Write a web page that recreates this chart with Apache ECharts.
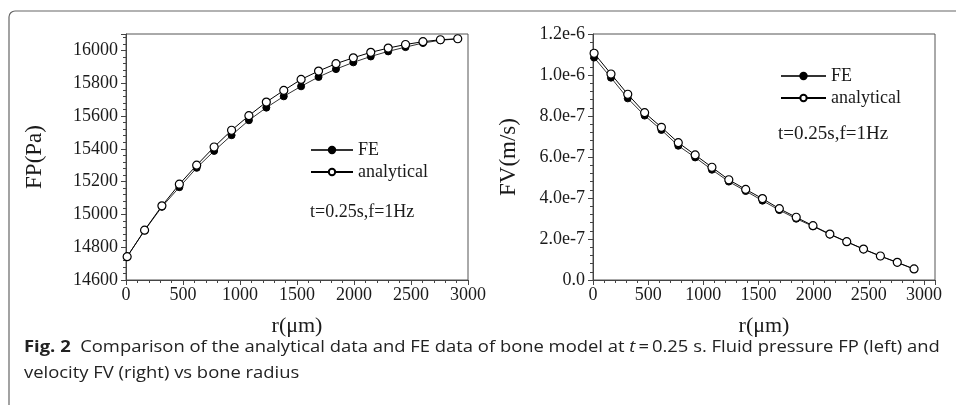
<!DOCTYPE html>
<html>
<head>
<meta charset="utf-8">
<script src="https://cdn.jsdelivr.net/npm/echarts@6/dist/echarts.min.js"></script>
<style>
html,body{margin:0;padding:0;background:#fff;}
#c{width:956px;height:405px;}
</style>
</head>
<body>
<div id="c"></div>
<script>
// ---- data ----
var radius = [10, 163, 315, 468, 620, 773, 926, 1078, 1231, 1384, 1536, 1689, 1842, 1994, 2147, 2300, 2452, 2605, 2758, 2910];
var fpFE = [14742, 14902, 15046, 15166, 15284, 15387, 15483, 15574, 15651, 15720, 15781, 15838, 15886, 15927, 15963, 15994, 16020, 16045, 16062, 16070];
var fpAnalytical = [14742, 14904, 15052, 15184, 15300, 15411, 15513, 15602, 15685, 15756, 15823, 15874, 15919, 15955, 15988, 16014, 16036, 16053, 16065, 16071];
var fvFE = [1.085e-6, 0.987e-6, 0.886e-6, 0.802e-6, 0.732e-6, 0.655e-6, 0.598e-6, 0.538e-6, 0.480e-6, 0.434e-6, 0.387e-6, 0.341e-6, 0.299e-6, 0.262e-6, 0.222e-6, 0.186e-6, 0.150e-6, 0.116e-6, 0.085e-6, 0.053e-6];
var fvAnalytical = [1.106e-6, 1.005e-6, 0.906e-6, 0.816e-6, 0.745e-6, 0.670e-6, 0.610e-6, 0.550e-6, 0.489e-6, 0.442e-6, 0.397e-6, 0.348e-6, 0.306e-6, 0.265e-6, 0.224e-6, 0.187e-6, 0.151e-6, 0.117e-6, 0.086e-6, 0.054e-6];
var seriesNames = ['FE', 'analytical'];
var annotation = 't=0.25s,f=1Hz';
var captionBold = 'Fig. 2';
var captionLine1 = '  Comparison of the analytical data and FE data of bone model at ';
var captionLine1b = '0.25 s. Fluid pressure FP (left) and';
var captionLine2 = 'velocity FV (right) vs bone radius';

function pairs(xs, ys) { return xs.map(function (x, i) { return [x, ys[i]]; }); }

var serif = 'Liberation Serif';
var txt = '#1a1a1a';
var axisCol = '#444';

function xAxisMain(gi, max, showMax) {
  return {
    type: 'value', gridIndex: gi, min: 0, max: max, interval: 500,
    name: 'r(\u03bcm)', nameLocation: 'middle', nameGap: 35,
    nameTextStyle: { fontFamily: serif, fontSize: 22, color: txt },
    axisLine: { show: true, lineStyle: { color: axisCol } },
    axisTick: { show: true, inside: false, length: 5, lineStyle: { color: axisCol } },
    minorTick: { show: true, splitNumber: 5, length: 3, lineStyle: { color: axisCol } },
    splitLine: { show: false },
    axisLabel: { fontFamily: serif, fontSize: 18, color: txt, margin: 6, showMaxLabel: showMax,
      formatter: function (v) { return v % 500 === 0 ? String(v) : ''; } }
  };
}
function yAxisMain(gi, min, max, interval, name, gap, fmt, showMax) {
  return {
    type: 'value', gridIndex: gi, min: min, max: max, interval: interval, position: 'left',
    name: name, nameLocation: 'middle', nameGap: gap,
    nameTextStyle: { fontFamily: serif, fontSize: 23, color: txt },
    axisLine: { show: true, lineStyle: { color: axisCol } },
    axisTick: { show: true, inside: false, length: 5, lineStyle: { color: axisCol } },
    minorTick: { show: true, splitNumber: 5, length: 3, lineStyle: { color: axisCol } },
    splitLine: { show: false },
    axisLabel: { fontFamily: serif, fontSize: 18, color: txt, margin: 8, showMaxLabel: showMax, formatter: fmt }
  };
}

function feSeries(xi, yi, data) {
  return { name: seriesNames[0], type: 'line', xAxisIndex: xi, yAxisIndex: yi, data: data,
    symbol: 'circle', symbolSize: 7, showSymbol: true,
    lineStyle: { color: '#333', width: 1 }, itemStyle: { color: '#000', borderColor: '#000', borderWidth: 1 },
    emphasis: { disabled: true }, z: 2, animation: false };
}
function anSeries(xi, yi, data) {
  return { name: seriesNames[1], type: 'line', xAxisIndex: xi, yAxisIndex: yi, data: data,
    symbol: 'circle', symbolSize: 8, showSymbol: true,
    lineStyle: { color: '#000', width: 1 }, itemStyle: { color: '#fff', borderColor: '#000', borderWidth: 1.2 },
    emphasis: { disabled: true }, z: 3, animation: false };
}

var fpFmt = function (v) { return v % 200 === 0 ? String(v) : ''; };
var fvFmt = function (v) { return Math.abs(v) < 1e-12 ? '0.0' : v.toExponential(1); };

var capFont = 'Open Sans';
var capSize = 16;
var capScale = 1.15;

var option = {
  backgroundColor: '#fff',
  animation: false,
  grid: [
    { left: 126, top: 34, width: 342, height: 246, show: true, borderColor: '#555', borderWidth: 1, backgroundColor: 'transparent' },
    { left: 593, top: 34, width: 342, height: 246, show: true, borderColor: '#555', borderWidth: 1, backgroundColor: 'transparent' }
  ],
  xAxis: [xAxisMain(0, 3000, true), xAxisMain(1, 3100, false)],
  yAxis: [
    yAxisMain(0, 14600, 16100, 200, 'FP(Pa)', 80, fpFmt, false),
    yAxisMain(1, 0, 1.2e-6, 2e-7, 'FV(m/s)', 73, fvFmt, true)
  ],
  legend: [
    { data: seriesNames, orient: 'vertical', left: 305, top: 136, itemWidth: 42, itemHeight: 8, itemGap: 4,
      textStyle: { fontFamily: serif, fontSize: 18, color: txt, lineHeight: 18 }, selectedMode: false },
    { data: seriesNames, orient: 'vertical', left: 775, top: 62, itemWidth: 45, itemHeight: 8, itemGap: 4,
      textStyle: { fontFamily: serif, fontSize: 18, color: txt, lineHeight: 18 }, selectedMode: false }
  ],
  series: [
    feSeries(0, 0, pairs(radius, fpFE)),
    anSeries(0, 0, pairs(radius, fpAnalytical)),
    feSeries(1, 1, pairs(radius, fvFE)),
    anSeries(1, 1, pairs(radius, fvAnalytical))
  ],
  graphic: [
    { type: 'rect', silent: true, shape: { x: 9, y: 11, width: 1200, height: 900, r: 6 },
      style: { fill: 'none', stroke: '#666', lineWidth: 1.2 }, z: 0 },
    { type: 'text', left: 310, top: 203, style: { text: annotation, font: '18px "Liberation Serif"', fill: txt } },
    { type: 'text', left: 778, top: 125, style: { text: annotation, font: '19px "Liberation Serif"', fill: txt } },
    { type: 'text', x: 24, y: 347, scaleX: capScale, style: {
        text: '{b|' + captionBold + '}{n|' + captionLine1 + '}{i|t}{n|\u2009=\u2009' + captionLine1b + '}',
        verticalAlign: 'middle',
        rich: {
          b: { fontFamily: capFont, fontWeight: 'bold', fontSize: capSize, fill: '#222' },
          n: { fontFamily: capFont, fontSize: capSize, fill: '#222' },
          i: { fontFamily: capFont, fontStyle: 'italic', fontSize: capSize, fill: '#222' }
        } } },
    { type: 'text', x: 24, y: 373, scaleX: capScale, style: { text: captionLine2, verticalAlign: 'middle',
        font: capSize + 'px "' + capFont + '"', fill: '#222' } }
  ]
};

var chart = echarts.init(document.getElementById('c'), null, { renderer: 'canvas' });
chart.setOption(option);
</script>
</body>
</html>
